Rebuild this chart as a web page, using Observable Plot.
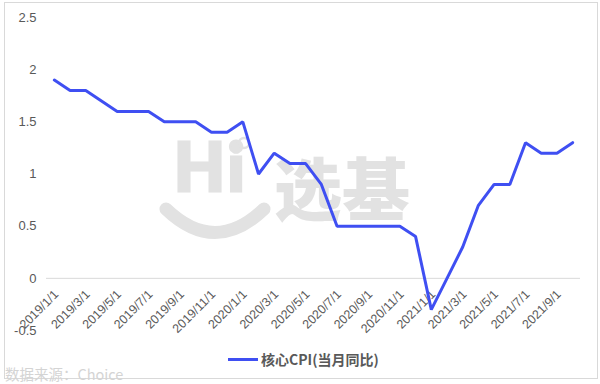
<!DOCTYPE html>
<html>
<head>
<meta charset="utf-8">
<script src="https://cdn.jsdelivr.net/npm/d3@7"></script>
<script src="https://cdn.jsdelivr.net/npm/@observablehq/plot@0.6"></script>
<style>
  html, body { margin: 0; padding: 0; background: #fff; }
  #wrap { position: relative; width: 600px; height: 384px; overflow: hidden; font-family: "Noto Sans CJK SC", "Liberation Sans", sans-serif; }
  #frame { position: absolute; left: 4px; top: 2px; width: 592px; height: 375px; border: 1px solid #d9d9d9; }
  #wm { position: absolute; left: 0; top: 0; width: 600px; height: 384px; color: #e2e2e2; }
  #chart { position: absolute; left: 0; top: 0; }
  #chart svg { background: transparent !important; }
  #legend { position: absolute; left: 228px; top: 349px; font-size: 14px; font-weight: bold; color: #595959; display: flex; align-items: center; }
  #legend .sw { width: 30px; height: 3px; background: #3f4ff2; margin-right: 3px; }
  #source { position: absolute; left: 5px; top: 363px; font-size: 14.5px; color: #d4d4d4; }
</style>
</head>
<body>
<div id="wrap">
  <div id="frame"></div>
  <div id="wm">
    <div style="position:absolute;left:174px;top:126px;font:900 66px Lato, 'Open Sans', sans-serif;letter-spacing:3px;-webkit-text-stroke:3px #e2e2e2;">Hi</div>
    <svg style="position:absolute;left:0;top:0" width="600" height="384">
      <circle cx="244" cy="143" r="5" fill="none" stroke="#e2e2e2" stroke-width="2.5"></circle>
      <path d="M166,209 Q215,256 264,209" fill="none" stroke="#e2e2e2" stroke-width="13" stroke-linecap="round"></path>
    </svg>
    <div style="position:absolute;left:274px;top:136px;font:900 68px 'Noto Sans CJK SC', sans-serif;">选基</div>
  </div>
  <div id="chart"></div>
  <div id="legend"><span class="sw"></span><span>核心CPI(当月同比)</span></div>
  <div id="source">数据来源：Choice</div>
</div>
<script>
const months = [
  "2019/1/1","2019/2/1","2019/3/1","2019/4/1","2019/5/1","2019/6/1","2019/7/1","2019/8/1","2019/9/1","2019/10/1","2019/11/1","2019/12/1",
  "2020/1/1","2020/2/1","2020/3/1","2020/4/1","2020/5/1","2020/6/1","2020/7/1","2020/8/1","2020/9/1","2020/10/1","2020/11/1","2020/12/1",
  "2021/1/1","2021/2/1","2021/3/1","2021/4/1","2021/5/1","2021/6/1","2021/7/1","2021/8/1","2021/9/1","2021/10/1"
];
const coreCPI = [
  1.9,1.8,1.8,1.7,1.6,1.6,1.6,1.5,1.5,1.5,1.4,1.4,
  1.5,1.0,1.2,1.1,1.1,0.9,0.5,0.5,0.5,0.5,0.5,0.4,
  -0.3,0.0,0.3,0.7,0.9,0.9,1.3,1.2,1.2,1.3
];
const yTicks = [-0.5, 0, 0.5, 1, 1.5, 2, 2.5];

const data = months.map((m, i) => ({idx: i, month: m, value: coreCPI[i]}));
const xTicks = data.filter(d => d.idx % 2 === 0);

const chart = Plot.plot({
  width: 600,
  height: 384,
  marginTop: 17,
  marginBottom: 54,
  marginLeft: 46,
  marginRight: 20,
  style: {background: "transparent", fontFamily: "'Liberation Sans', 'Noto Sans', sans-serif"},
  x: {type: "linear", domain: [-0.5, months.length - 0.5], axis: null},
  y: {domain: [-0.5, 2.5], axis: null},
  marks: [
    Plot.ruleY([0], {stroke: "#d9d9d9", strokeWidth: 1}),
    Plot.axisY(yTicks, {label: null, tickSize: 0, tickPadding: 10, fontSize: 13, fill: "#595959", tickFormat: d => String(d), textAnchor: "end"}),
    Plot.text(xTicks, {x: "idx", y: 0, text: "month", rotate: -45, textAnchor: "end", lineAnchor: "middle", dx: 2, dy: 14, fontSize: 12.5, fill: "#595959"}),
    Plot.line(data, {x: "idx", y: "value", stroke: "#3f4ff2", strokeWidth: 3, strokeLinejoin: "miter"})
  ]
});
document.getElementById("chart").appendChild(chart);
</script>
</body>
</html>
